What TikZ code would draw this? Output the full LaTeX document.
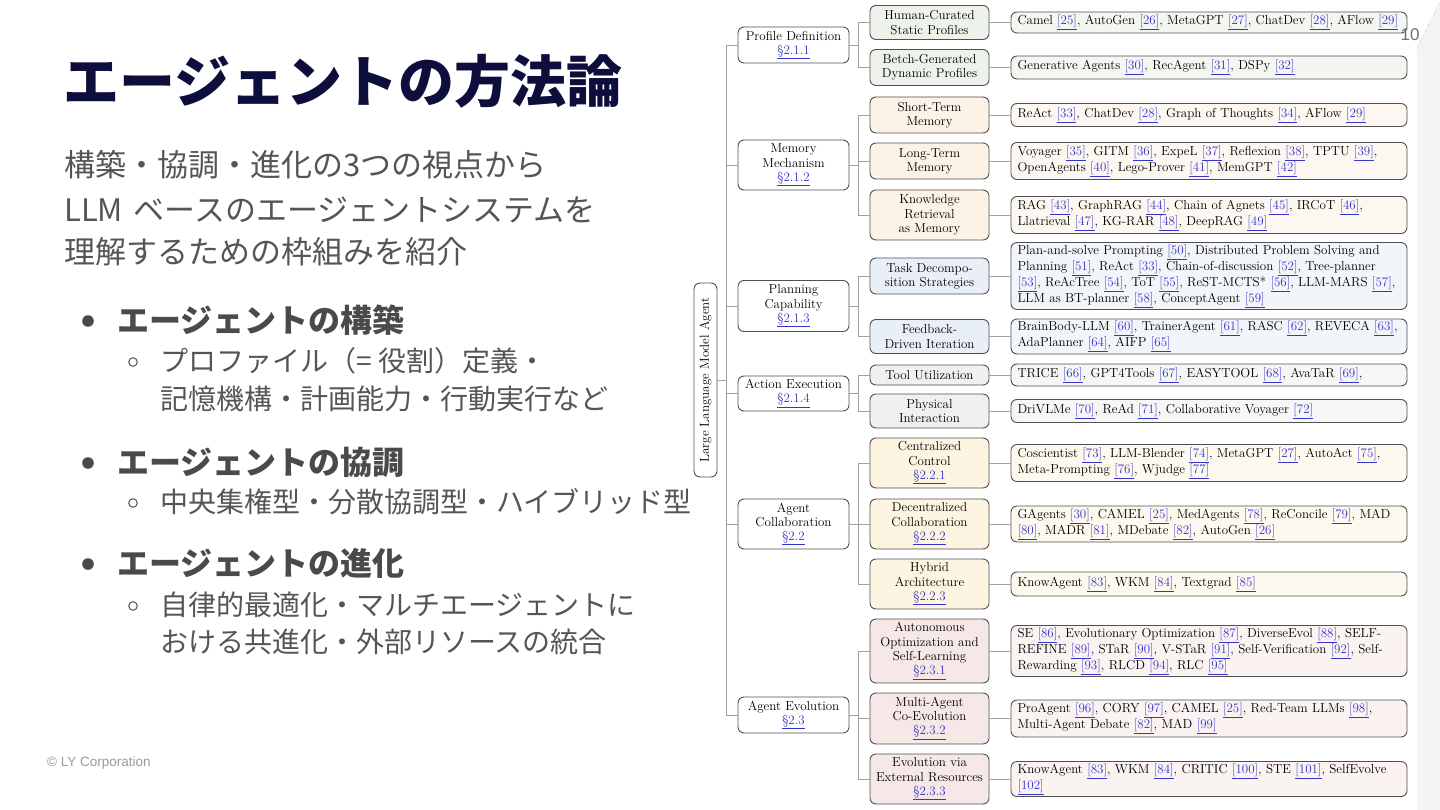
\documentclass[tikz,border=0pt]{standalone}
\usepackage{fontspec}
\newfontfamily\jp{Noto Sans CJK JP}
\newfontfamily\lsans{Liberation Sans}
\definecolor{navy}{HTML}{0E0E3C}
\definecolor{hd}{HTML}{4A4A4A}
\definecolor{sb}{HTML}{555555}
\definecolor{ft}{HTML}{9A9A9A}
\definecolor{pg}{HTML}{707070}
\definecolor{bd}{HTML}{505050}
\definecolor{cn}{HTML}{A0A0A0}
\definecolor{lnk}{HTML}{3535C8}
\definecolor{strip}{HTML}{F4F4F4}
\definecolor{pfA}{HTML}{EDF2EA}\definecolor{pfB}{HTML}{F3F6F1}
\definecolor{mmA}{HTML}{FCF2E6}\definecolor{mmB}{HTML}{FCF7F1}
\definecolor{plA}{HTML}{E9EFF7}\definecolor{plB}{HTML}{F2F5FA}
\definecolor{acA}{HTML}{F0F0F1}\definecolor{acB}{HTML}{F6F6F7}
\definecolor{coA}{HTML}{FDF5E1}\definecolor{coB}{HTML}{FDF9EE}
\definecolor{evA}{HTML}{F5E8E6}\definecolor{evB}{HTML}{FAF3F2}
\newcommand\rf[1]{\textcolor{lnk}{\underline{[#1]}}}
\newcommand\sr[1]{\textcolor{lnk}{\underline{\S#1}}}
\tikzset{
  box/.style={draw=bd, line width=0.9pt, rounded corners=6pt, inner xsep=2pt, inner ysep=2pt,
    font=\fontsize{13}{14.2}\selectfont, align=center},
  lone/.style={box, fill=white, minimum width=111pt},
  ltwo/.style={box, minimum width=119pt},
  leaf/.style={box, align=left, text width=383pt, inner xsep=6.5pt, minimum width=396pt},
  conn/.style={draw=cn, line width=0.8pt},
  jtitle/.style={anchor=west, inner sep=0pt, text=navy, font=\jp\bfseries\fontsize{56}{60}\selectfont},
  jsub/.style={anchor=west, inner sep=0pt, text=sb, font=\jp\fontsize{31}{36}\selectfont},
  jhead/.style={anchor=west, inner sep=0pt, text=hd, font=\jp\bfseries\fontsize{32}{36}\selectfont},
  jitem/.style={anchor=west, inner sep=0pt, text=sb, font=\jp\fontsize{28}{34}\selectfont},
}
\begin{document}
\begin{tikzpicture}[x=1pt,y=-1pt]
\useasboundingbox (0,0) rectangle (1440,810);
\fill[white] (0,0) rectangle (1440,810);
\fill[strip] (1417,810) -- (1417,48) -- (1440,2) -- (1440,810) -- cycle;
\draw[cn, line width=0.6pt, dotted] (1417,48) -- (1440,2);

% ---------- left text ----------
\node[jtitle] (title) at (63,81) {エージェントの方法論};
\node[jsub] (s1) at (64,165) {構築・協調・進化の3つの視点から};
\node[jsub] (s2) at (64,210) {LLM\hspace{4pt} ベースのエージェントシステムを};
\node[jsub] (s3) at (64,252) {理解するための枠組みを紹介};

\fill[hd] (88,321) circle (5.8);
\node[jhead] (h1) at (117,320) {エージェントの構築};
\draw[sb, line width=1pt] (133,362) circle (4.3);
\node[jitem] (i1a) at (160,361) {プロファイル（= 役割）定義・};
\node[jitem] (i1b) at (160,399) {記憶機構・計画能力・行動実行など};

\fill[hd] (88,463) circle (5.8);
\node[jhead] (h2) at (117,462) {エージェントの協調};
\draw[sb, line width=1pt] (133,503) circle (4.3);
\node[jitem] (i2a) at (160,502) {中央集権型・分散協調型・ハイブリッド型};

\fill[hd] (88,564) circle (5.8);
\node[jhead] (h3) at (117,563) {エージェントの進化};
\draw[sb, line width=1pt] (133,606) circle (4.3);
\node[jitem] (i3a) at (160,605) {自律的最適化・マルチエージェントに};
\node[jitem] (i3b) at (160,642) {おける共進化・外部リソースの統合};

\node[anchor=west, inner sep=0pt, text=ft, font=\lsans\fontsize{13.5}{16}\selectfont] (foot) at (47,763) {© LY Corporation};

% ---------- tree: root ----------
\node[box, fill=white, rotate=90, minimum width=194pt, minimum height=23pt] (root) at (705.5,380) {Large Language Model Agent};

% ---------- level 1 ----------
\node[lone, minimum height=36pt] (pd) at (793.5,45) {Profile Definition\\\sr{2.1.1}};
\node[lone, minimum height=50pt] (mm) at (793.5,165) {Memory\\Mechanism\\\sr{2.1.2}};
\node[lone, minimum height=51pt] (pc) at (793.5,306) {Planning\\Capability\\\sr{2.1.3}};
\node[lone, minimum height=35pt] (ae) at (793.5,393.5) {Action Execution\\\sr{2.1.4}};
\node[lone, minimum height=50pt] (ac) at (793.5,524) {Agent\\Collaboration\\\sr{2.2}};
\node[lone, minimum height=36pt] (ev) at (793.5,715) {Agent Evolution\\\sr{2.3}};

% ---------- level 2 ----------
\node[ltwo, fill=pfA, minimum height=34pt] (hc) at (929.5,22.5) {Human-Curated\\Static Profiles};
\node[ltwo, fill=pfA, minimum height=36pt] (bg) at (929.5,67.5) {Betch-Generated\\Dynamic Profiles};
\node[ltwo, fill=mmA, minimum height=36pt] (st) at (929.5,115) {Short-Term\\Memory};
\node[ltwo, fill=mmA, minimum height=36pt] (lt) at (929.5,161) {Long-Term\\Memory};
\node[ltwo, fill=mmA, minimum height=50pt] (kr) at (929.5,215) {Knowledge\\Retrieval\\as Memory};
\node[ltwo, fill=plA, minimum height=36pt] (td) at (929.5,276) {Task Decompo-\\sition Strategies};
\node[ltwo, fill=plA, minimum height=34pt] (fb) at (929.5,336.5) {Feedback-\\Driven Iteration};
\node[ltwo, fill=acA, minimum height=20pt] (tu) at (929.5,375) {Tool Utilization};
\node[ltwo, fill=acA, minimum height=34pt] (pi) at (929.5,411) {Physical\\Interaction};
\node[ltwo, fill=coA, minimum height=50pt] (cc) at (929.5,463) {Centralized\\Control\\\sr{2.2.1}};
\node[ltwo, fill=coA, minimum height=50pt] (dc) at (929.5,524) {Decentralized\\Collaboration\\\sr{2.2.2}};
\node[ltwo, fill=coA, minimum height=50pt] (ha) at (929.5,584) {Hybrid\\Architecture\\\sr{2.2.3}};
\node[ltwo, fill=evA, minimum height=64pt] (ao) at (929.5,651) {Autonomous\\Optimization and\\Self-Learning\\\sr{2.3.1}};
\node[ltwo, fill=evA, minimum height=51pt] (ma) at (929.5,718.5) {Multi-Agent\\Co-Evolution\\\sr{2.3.2}};
\node[ltwo, fill=evA, minimum height=50pt] (er) at (929.5,779) {Evolution via\\External Resources\\\sr{2.3.3}};

% ---------- leaves ----------
\node[leaf, fill=pfB, minimum height=21pt] (fhc) at (1209,22.5) {Camel \rf{25}, AutoGen \rf{26}, MetaGPT \rf{27}, ChatDev \rf{28}, AFlow \rf{29}};
\node[leaf, fill=pfB, minimum height=23pt] (fbg) at (1209,67.5) {Generative Agents \rf{30}, RecAgent \rf{31}, DSPy \rf{32}};
\node[leaf, fill=mmB, minimum height=23pt] (fst) at (1209,115) {ReAct \rf{33}, ChatDev \rf{28}, Graph of Thoughts \rf{34}, AFlow \rf{29}};
\node[leaf, fill=mmB, minimum height=37pt] (flt) at (1209,161) {Voyager \rf{35}, GITM \rf{36}, ExpeL \rf{37}, Reflexion \rf{38}, TPTU \rf{39},\\OpenAgents \rf{40}, Lego-Prover \rf{41}, MemGPT \rf{42}};
\node[leaf, fill=mmB, minimum height=37pt] (fkr) at (1209,215) {RAG \rf{43}, GraphRAG \rf{44}, Chain of Agnets \rf{45}, IRCoT \rf{46},\\Llatrieval \rf{47}, KG-RAR \rf{48}, DeepRAG \rf{49}};
\node[leaf, fill=plB, minimum height=66pt] (ftd) at (1209,276) {Plan-and-solve Prompting \rf{50}, Distributed Problem Solving and\\Planning \rf{51}, ReAct \rf{33}, Chain-of-discussion \rf{52}, Tree-planner\\\rf{53}, ReAcTree \rf{54}, ToT \rf{55}, ReST-MCTS* \rf{56}, LLM-MARS \rf{57},\\LLM as BT-planner \rf{58}, ConceptAgent \rf{59}};
\node[leaf, fill=plB, minimum height=35pt] (ffb) at (1209,336.5) {BrainBody-LLM \rf{60}, TrainerAgent \rf{61}, RASC \rf{62}, REVECA \rf{63},\\AdaPlanner \rf{64}, AIFP \rf{65}};
\node[leaf, fill=acB, minimum height=22pt] (ftu) at (1209,375) {TRICE \rf{66}, GPT4Tools \rf{67}, EASYTOOL \rf{68}, AvaTaR \rf{69},};
\node[leaf, fill=acB, minimum height=23pt] (fpi) at (1209,411) {DriVLMe \rf{70}, ReAd \rf{71}, Collaborative Voyager \rf{72}};
\node[leaf, fill=coB, minimum height=37pt] (fcc) at (1209,463) {Coscientist \rf{73}, LLM-Blender \rf{74}, MetaGPT \rf{27}, AutoAct \rf{75},\\Meta-Prompting \rf{76}, Wjudge \rf{77}};
\node[leaf, fill=coB, minimum height=36pt] (fdc) at (1209,524) {GAgents \rf{30}, CAMEL \rf{25}, MedAgents \rf{78}, ReConcile \rf{79}, MAD\\\rf{80}, MADR \rf{81}, MDebate \rf{82}, AutoGen \rf{26}};
\node[leaf, fill=coB, minimum height=24pt] (fha) at (1209,584) {KnowAgent \rf{83}, WKM \rf{84}, Textgrad \rf{85}};
\node[leaf, fill=evB, minimum height=51pt] (fao) at (1209,651) {SE \rf{86}, Evolutionary Optimization \rf{87}, DiverseEvol \rf{88}, SELF-\\REFINE \rf{89}, STaR \rf{90}, V-STaR \rf{91}, Self-Verification \rf{92}, Self-\\Rewarding \rf{93}, RLCD \rf{94}, RLC \rf{95}};
\node[leaf, fill=evB, minimum height=37pt] (fma) at (1209,718.5) {ProAgent \rf{96}, CORY \rf{97}, CAMEL \rf{25}, Red-Team LLMs \rf{98},\\Multi-Agent Debate \rf{82}, MAD \rf{99}};
\node[leaf, fill=evB, minimum height=35pt] (fer) at (1209,779) {KnowAgent \rf{83}, WKM \rf{84}, CRITIC \rf{100}, STE \rf{101}, SelfEvolve\\\rf{102}};

% ---------- connectors ----------
\coordinate (tk) at (726,0);
\coordinate (bA) at (858,0);
\draw[conn] (root.south) -- (root.south -| tk);
\draw[conn] (pd.west -| tk) -- (ev.west -| tk);
\foreach \n in {pd,mm,pc,ae,ac,ev} \draw[conn] (\n.west) -- (\n.west -| tk);
\foreach \p in {pd,mm,pc,ae,ac,ev} \draw[conn] (\p.east) -- (\p.east -| bA);
\draw[conn] (hc.west) -- (hc.west -| bA) -- (bg.west -| bA) -- (bg.west);
\draw[conn] (st.west) -- (st.west -| bA) -- (kr.west -| bA) -- (kr.west);
\draw[conn] (lt.west) -- (lt.west -| bA);
\draw[conn] (td.west) -- (td.west -| bA) -- (fb.west -| bA) -- (fb.west);
\draw[conn] (tu.west) -- (tu.west -| bA) -- (pi.west -| bA) -- (pi.west);
\draw[conn] (cc.west) -- (cc.west -| bA) -- (ha.west -| bA) -- (ha.west);
\draw[conn] (dc.west) -- (dc.west -| bA);
\draw[conn] (ao.west) -- (ao.west -| bA) -- (er.west -| bA) -- (er.west);
\draw[conn] (ma.west) -- (ma.west -| bA);
\foreach \a/\b in {hc/fhc,bg/fbg,st/fst,lt/flt,kr/fkr,td/ftd,fb/ffb,tu/ftu,pi/fpi,cc/fcc,dc/fdc,ha/fha,ao/fao,ma/fma,er/fer}
  \draw[conn] (\a.east) -- (\b.west);

\node[inner sep=0pt, text=pg, font=\lsans\fontsize{17}{20}\selectfont] (pnum) at (1410,35) {10};
\end{tikzpicture}
\end{document}
